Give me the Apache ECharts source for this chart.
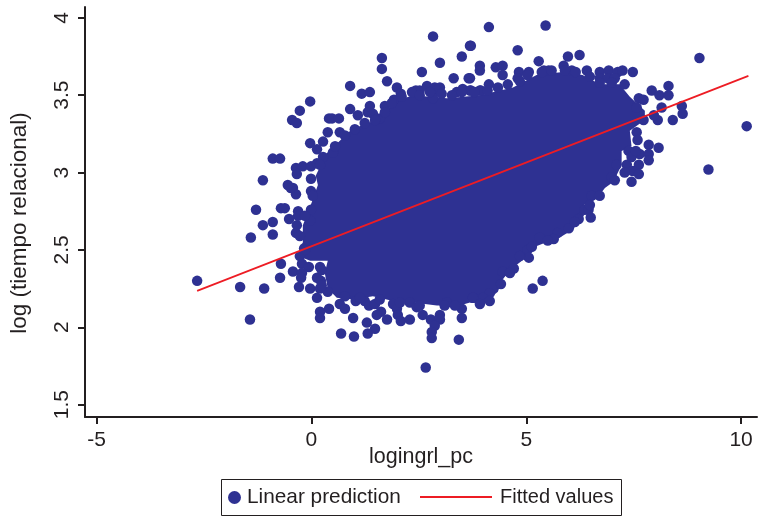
<!DOCTYPE html>
<html><head><meta charset="utf-8">
<style>html,body{margin:0;padding:0;background:#fff}#c{width:758px;height:516px}</style>
<script src="https://cdn.jsdelivr.net/npm/echarts@6/dist/echarts.min.js"></script>
</head><body><div id="c"></div>
<script>
const xTicks=[-5,0,5,10];
const yTicks=[1.5,2,2.5,3,3.5,4];
// individually readable observations around the cloud
const points=[[2.83,3.88],[3.69,3.82],[3.50,3.75],[2.99,3.71],[1.64,3.74],[1.64,3.67],[2.57,3.65],[3.92,3.69],[3.92,3.66],[3.31,3.61],[3.66,3.61],[1.76,3.59],[0.90,3.56],[1.99,3.55],[1.17,3.51],[1.36,3.52],[2.08,3.51],[2.43,3.53],[2.52,3.53],[2.69,3.56],[2.87,3.55],[2.99,3.55],[2.92,3.53],[2.83,3.48],[3.38,3.52],[3.52,3.54],[3.69,3.53],[3.92,3.53],[-0.03,3.46],[-0.27,3.40],[-0.45,3.34],[-0.34,3.32],[0.90,3.41],[1.08,3.37],[1.36,3.43],[1.31,3.39],[1.71,3.43],[1.92,3.47],[1.59,3.35],[1.43,3.38],[0.41,3.35],[0.48,3.35],[0.64,3.35],[0.38,3.26],[0.66,3.26],[0.27,3.20],[-0.03,3.19],[0.13,3.15],[-0.90,3.09],[-0.73,3.09],[-1.13,2.95],[-0.36,3.03],[-0.20,3.04],[-0.01,3.04],[0.13,3.06],[0.27,3.10],[0.50,3.13],[-0.34,2.99],[-0.01,2.96],[-0.55,2.92],[-0.43,2.90],[-0.01,2.88],
[-1.29,2.76],[-0.71,2.77],[-0.62,2.77],[-0.31,2.75],[-0.31,2.72],[-0.52,2.70],[-0.90,2.68],[-1.13,2.66],[-0.90,2.60],[-1.41,2.58],[-0.36,2.61],[-0.34,2.66],[-0.01,2.76],[-0.36,2.86],[-0.48,2.90],[-0.03,2.69],[-0.17,2.51],[-0.27,2.46],[-0.71,2.41],[-0.22,2.41],[-0.06,2.39],[-0.43,2.36],[-0.22,2.35],[-0.73,2.32],[-0.24,2.32],[-0.29,2.26],[-2.66,2.30],[-1.66,2.26],[-1.10,2.25],[-1.43,2.05],[-0.03,2.25],[0.20,2.39],[0.13,2.32],[0.22,2.30],[0.20,2.25],[0.13,2.19],[0.38,2.23],[0.66,2.15],[0.78,2.12],[0.41,2.12],[0.20,2.10],[0.20,2.06],[0.97,2.06],[1.03,2.17],[1.24,2.17],[1.34,2.14],[1.48,2.15],[1.62,2.10],[1.52,2.08],[1.76,2.05],[1.29,2.03],[1.48,1.99],[1.31,1.96],[0.69,1.96],[0.99,1.94],[1.90,2.15],[1.99,2.12],[2.01,2.08],[2.08,2.04],[2.29,2.05],[2.29,2.16],[2.45,2.13],[2.59,2.08],[2.78,2.05],[2.99,2.08],[2.99,2.05],[2.87,2.01],[2.80,1.97],[2.80,1.93],[2.66,1.74],[3.43,1.92],[3.50,2.06],[3.50,2.12],[3.15,2.16],[3.76,2.19],
[4.13,3.94],[5.45,3.95],[3.71,3.82],[4.80,3.79],[5.29,3.72],[5.97,3.75],[6.24,3.76],[9.03,3.74],[4.29,3.68],[4.45,3.69],[4.45,3.63],[4.83,3.65],[5.06,3.65],[5.41,3.66],[5.52,3.66],[5.87,3.69],[6.06,3.66],[6.41,3.66],[6.71,3.65],[6.71,3.61],[6.92,3.66],[7.13,3.65],[7.24,3.66],[7.48,3.65],[6.90,3.61],[7.06,3.61],[3.69,3.61],[4.13,3.57],[3.71,3.53],[3.94,3.53],[4.80,3.61],[8.31,3.56],[7.92,3.53],[8.10,3.50],[8.31,3.50],[7.62,3.48],[7.73,3.47],[8.15,3.42],[8.62,3.43],[8.64,3.38],[8.41,3.34],[8.06,3.34],[7.97,3.37],[7.73,3.34],[7.57,3.42],[10.13,3.30],[9.24,3.02],[7.57,3.26],[7.59,3.21],[7.85,3.18],[8.08,3.16],[7.64,3.12],[7.85,3.12],[7.85,3.08],[7.62,3.05],[7.34,3.05],[7.48,3.01],[7.62,2.99],[7.45,2.94],[7.10,3.05],[7.38,3.14],[7.45,3.10],[6.99,2.97],
[6.52,2.85],[6.36,2.76],[6.45,2.76],[6.22,2.70],[6.50,2.71],[5.99,2.64],[5.73,2.61],[5.64,2.57],[5.31,2.58],[5.03,2.50],[5.06,2.45],[4.85,2.46],[4.71,2.38],[4.45,2.36],[4.41,2.28],[5.38,2.30],[5.15,2.25],[4.15,2.22],[3.99,2.19],[3.76,2.19],
[1.01,3.28],[1.24,3.32],[1.48,3.34],[1.71,3.39],[1.87,3.45],[2.10,3.49],[2.34,3.52],[2.52,3.50],[2.76,3.52],[3.03,3.51],[3.27,3.50],[3.50,3.52],[3.80,3.52],[4.10,3.53],[4.34,3.55],[4.57,3.57],[4.85,3.59],[5.03,3.63],[5.36,3.65],[5.59,3.66],[5.90,3.66],[6.15,3.65],[6.48,3.62],[6.71,3.58],[6.99,3.58],[7.29,3.57],
[0.78,2.20],[1.13,2.19],[1.59,2.18],[2.06,2.16],[2.52,2.14],[3.10,2.14],[3.34,2.14],[3.92,2.15],[4.15,2.17],[4.62,2.35],
[7.55,3.14],[7.29,3.00],[7.06,2.95],[6.71,2.85],[6.48,2.79],[6.13,2.68],[5.50,2.56],[5.13,2.52],
[0.24,2.37],[0.24,2.27],[-0.15,2.50],[-0.27,2.59],[-0.15,2.72],[0.03,2.85],[0.20,3.05],[0.55,3.17],[0.78,3.24]];
// outline of the solid, overplotted part of the cloud
const coreOutline=[[1.59,3.35],[1.94,3.46],[2.36,3.50],[3.15,3.48],[3.92,3.50],[4.69,3.55],[5.24,3.63],[5.85,3.65],[6.31,3.63],[6.71,3.57],[7.17,3.57],[7.41,3.49],[7.76,3.40],[7.76,3.34],[7.41,3.27],[7.45,3.17],[7.22,3.14],[7.22,3.05],[7.03,2.94],[6.83,2.90],[6.64,2.83],[6.34,2.79],[6.34,2.72],[6.08,2.63],[5.78,2.58],[5.38,2.54],[5.01,2.50],[4.99,2.45],[4.62,2.37],[4.43,2.30],[4.34,2.23],[4.03,2.16],[3.69,2.16],[3.45,2.14],[2.92,2.14],[2.36,2.16],[1.90,2.17],[1.43,2.20],[0.97,2.18],[0.59,2.19],[0.38,2.25],[0.31,2.35],[0.38,2.43],[-0.03,2.43],[-0.31,2.46],[-0.20,2.55],[-0.20,2.66],[0.01,2.81],[0.15,2.92],[0.10,2.98],[0.34,3.12],[0.94,3.28]];
const fitted=[[-2.66,2.235],[10.17,3.625]];
const navy='#2E3192',red='#ED1C24',ink='#231F20',font='"Liberation Sans",Arial,sans-serif';
const chart=echarts.init(document.getElementById('c'),null,{renderer:'canvas'});
chart.setOption({
  animation:false,backgroundColor:'#fff',
  grid:{left:85,right:1,top:7,bottom:99},
  xAxis:{type:'value',min:-5.27,max:10.37,splitLine:{show:false},
    name:'logingrl_pc',nameLocation:'center',nameGap:29,nameMoveOverlap:false,
    nameTextStyle:{fontFamily:font,fontSize:21.5,color:ink},
    axisLine:{onZero:false,lineStyle:{color:ink,width:2}},
    axisTick:{customValues:xTicks,length:7,lineStyle:{color:ink,width:2}},
    axisLabel:{customValues:xTicks,fontFamily:font,fontSize:21,color:ink,margin:13}},
  yAxis:{type:'value',min:1.42,max:4.07,splitLine:{show:false},
    name:'log (tiempo relacional)',nameLocation:'center',nameGap:54,nameMoveOverlap:false,
    nameTextStyle:{fontFamily:font,fontSize:22.5,color:ink,padding:[0,22,0,0]},
    axisLine:{onZero:false,lineStyle:{color:ink,width:2}},
    axisTick:{customValues:yTicks,length:7,lineStyle:{color:ink,width:2}},
    axisLabel:{customValues:yTicks,rotate:90,fontFamily:font,fontSize:21,color:ink,margin:12}},
  legend:[
    {data:['Linear prediction'],left:228,top:487,itemWidth:13,itemHeight:13,itemGap:0,padding:0,
     textStyle:{fontFamily:font,fontSize:20.8,color:ink,padding:[0,0,0,1]}},
    {data:['Fitted values'],left:419,top:487,itemWidth:72,itemHeight:2,padding:0,
     textStyle:{fontFamily:font,fontSize:20,color:ink,padding:[0,0,0,3]}}],
  graphic:[{type:'rect',z:-1,shape:{x:221.5,y:479.5,width:400,height:36},style:{fill:'#fff',stroke:ink,lineWidth:1}}],
  series:[
    {type:'custom',name:'core',silent:true,z:2,data:[0],coordinateSystem:'cartesian2d',
     renderItem:(p,api)=>({type:'polygon',shape:{points:coreOutline.map(c=>api.coord(c))},style:{fill:navy}})},
    {type:'scatter',name:'Linear prediction',data:points,symbol:'circle',symbolSize:10.5,z:3,
     itemStyle:{color:navy,opacity:1}},
    {type:'line',name:'Fitted values',data:fitted,symbol:'none',z:4,lineStyle:{color:red,width:1.7},itemStyle:{color:red}}
  ]
});
</script></body></html>
